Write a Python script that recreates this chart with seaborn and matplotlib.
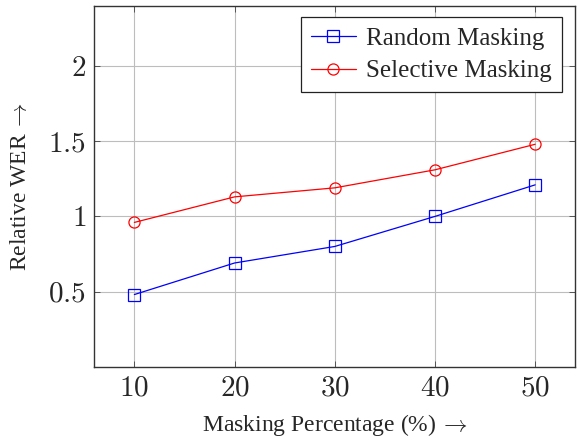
import pandas as pd
import matplotlib
matplotlib.use("Agg")
import matplotlib.pyplot as plt
from matplotlib.ticker import FuncFormatter
import seaborn as sns

# ---- data ----
mask_pct = [10, 20, 30, 40, 50]
random_wer = [0.48, 0.69, 0.80, 1.00, 1.21]
selective_wer = [0.96, 1.13, 1.19, 1.31, 1.48]
series_names = ["Random Masking", "Selective Masking"]

sns.set_theme(style="whitegrid")
plt.rcParams["font.family"] = ["Liberation Serif", "DejaVu Serif"]
plt.rcParams["mathtext.fontset"] = "cm"

df = pd.DataFrame({
    "pct": mask_pct * 2,
    "wer": random_wer + selective_wer,
    "method": [series_names[0]] * 5 + [series_names[1]] * 5,
})

fig = plt.figure(figsize=(5.77, 4.42), dpi=100)
ax = fig.add_axes([0.1634, 0.1704, 0.9970 - 0.1634, 0.9864 - 0.1704])
ax.set_facecolor("white")

styles = {series_names[0]: ("blue", "s"), series_names[1]: ("red", "o")}
for name, (col, mk) in styles.items():
    sub = df[df["method"] == name]
    sns.lineplot(data=sub, x="pct", y="wer", ax=ax, color=col, marker=mk,
                 markersize=8, mfc="none", mec=col, mew=0.9, lw=0.9,
                 label=name, legend=False)

ax.set_xlim(6, 54)
ax.set_ylim(0, 2.4)
ax.set_xticks(mask_pct)
ax.set_yticks([0.5, 1, 1.5, 2])
fmt = FuncFormatter(lambda v, p: f"${v:g}$")
ax.xaxis.set_major_formatter(fmt)
ax.yaxis.set_major_formatter(fmt)
ax.tick_params(axis="both", which="both", direction="in", length=4, width=0.6,
               color="#444444", labelsize=21, top=True, right=True,
               bottom=True, left=True, pad=6)

ax.grid(True, color="#bdbdbd", lw=0.8)
for s in ax.spines.values():
    s.set_color("#333333")
    s.set_linewidth(1.0)

ax.set_xlabel("Masking Percentage (%)$\\,\\rightarrow$", fontsize=17, labelpad=8)
ax.set_ylabel("Relative WER$\\,\\rightarrow$", fontsize=17, labelpad=12)

leg = ax.legend(loc="upper right", bbox_to_anchor=(0.9717, 0.9687),
                borderaxespad=0, fontsize=18, frameon=True, fancybox=False,
                handlelength=1.8, handletextpad=0.4, borderpad=0.4,
                labelspacing=0.4)
leg.get_frame().set_edgecolor("#222222")
leg.get_frame().set_linewidth(0.9)
leg.get_frame().set_alpha(1)

fig.savefig("out.png", dpi=100, facecolor="white")
